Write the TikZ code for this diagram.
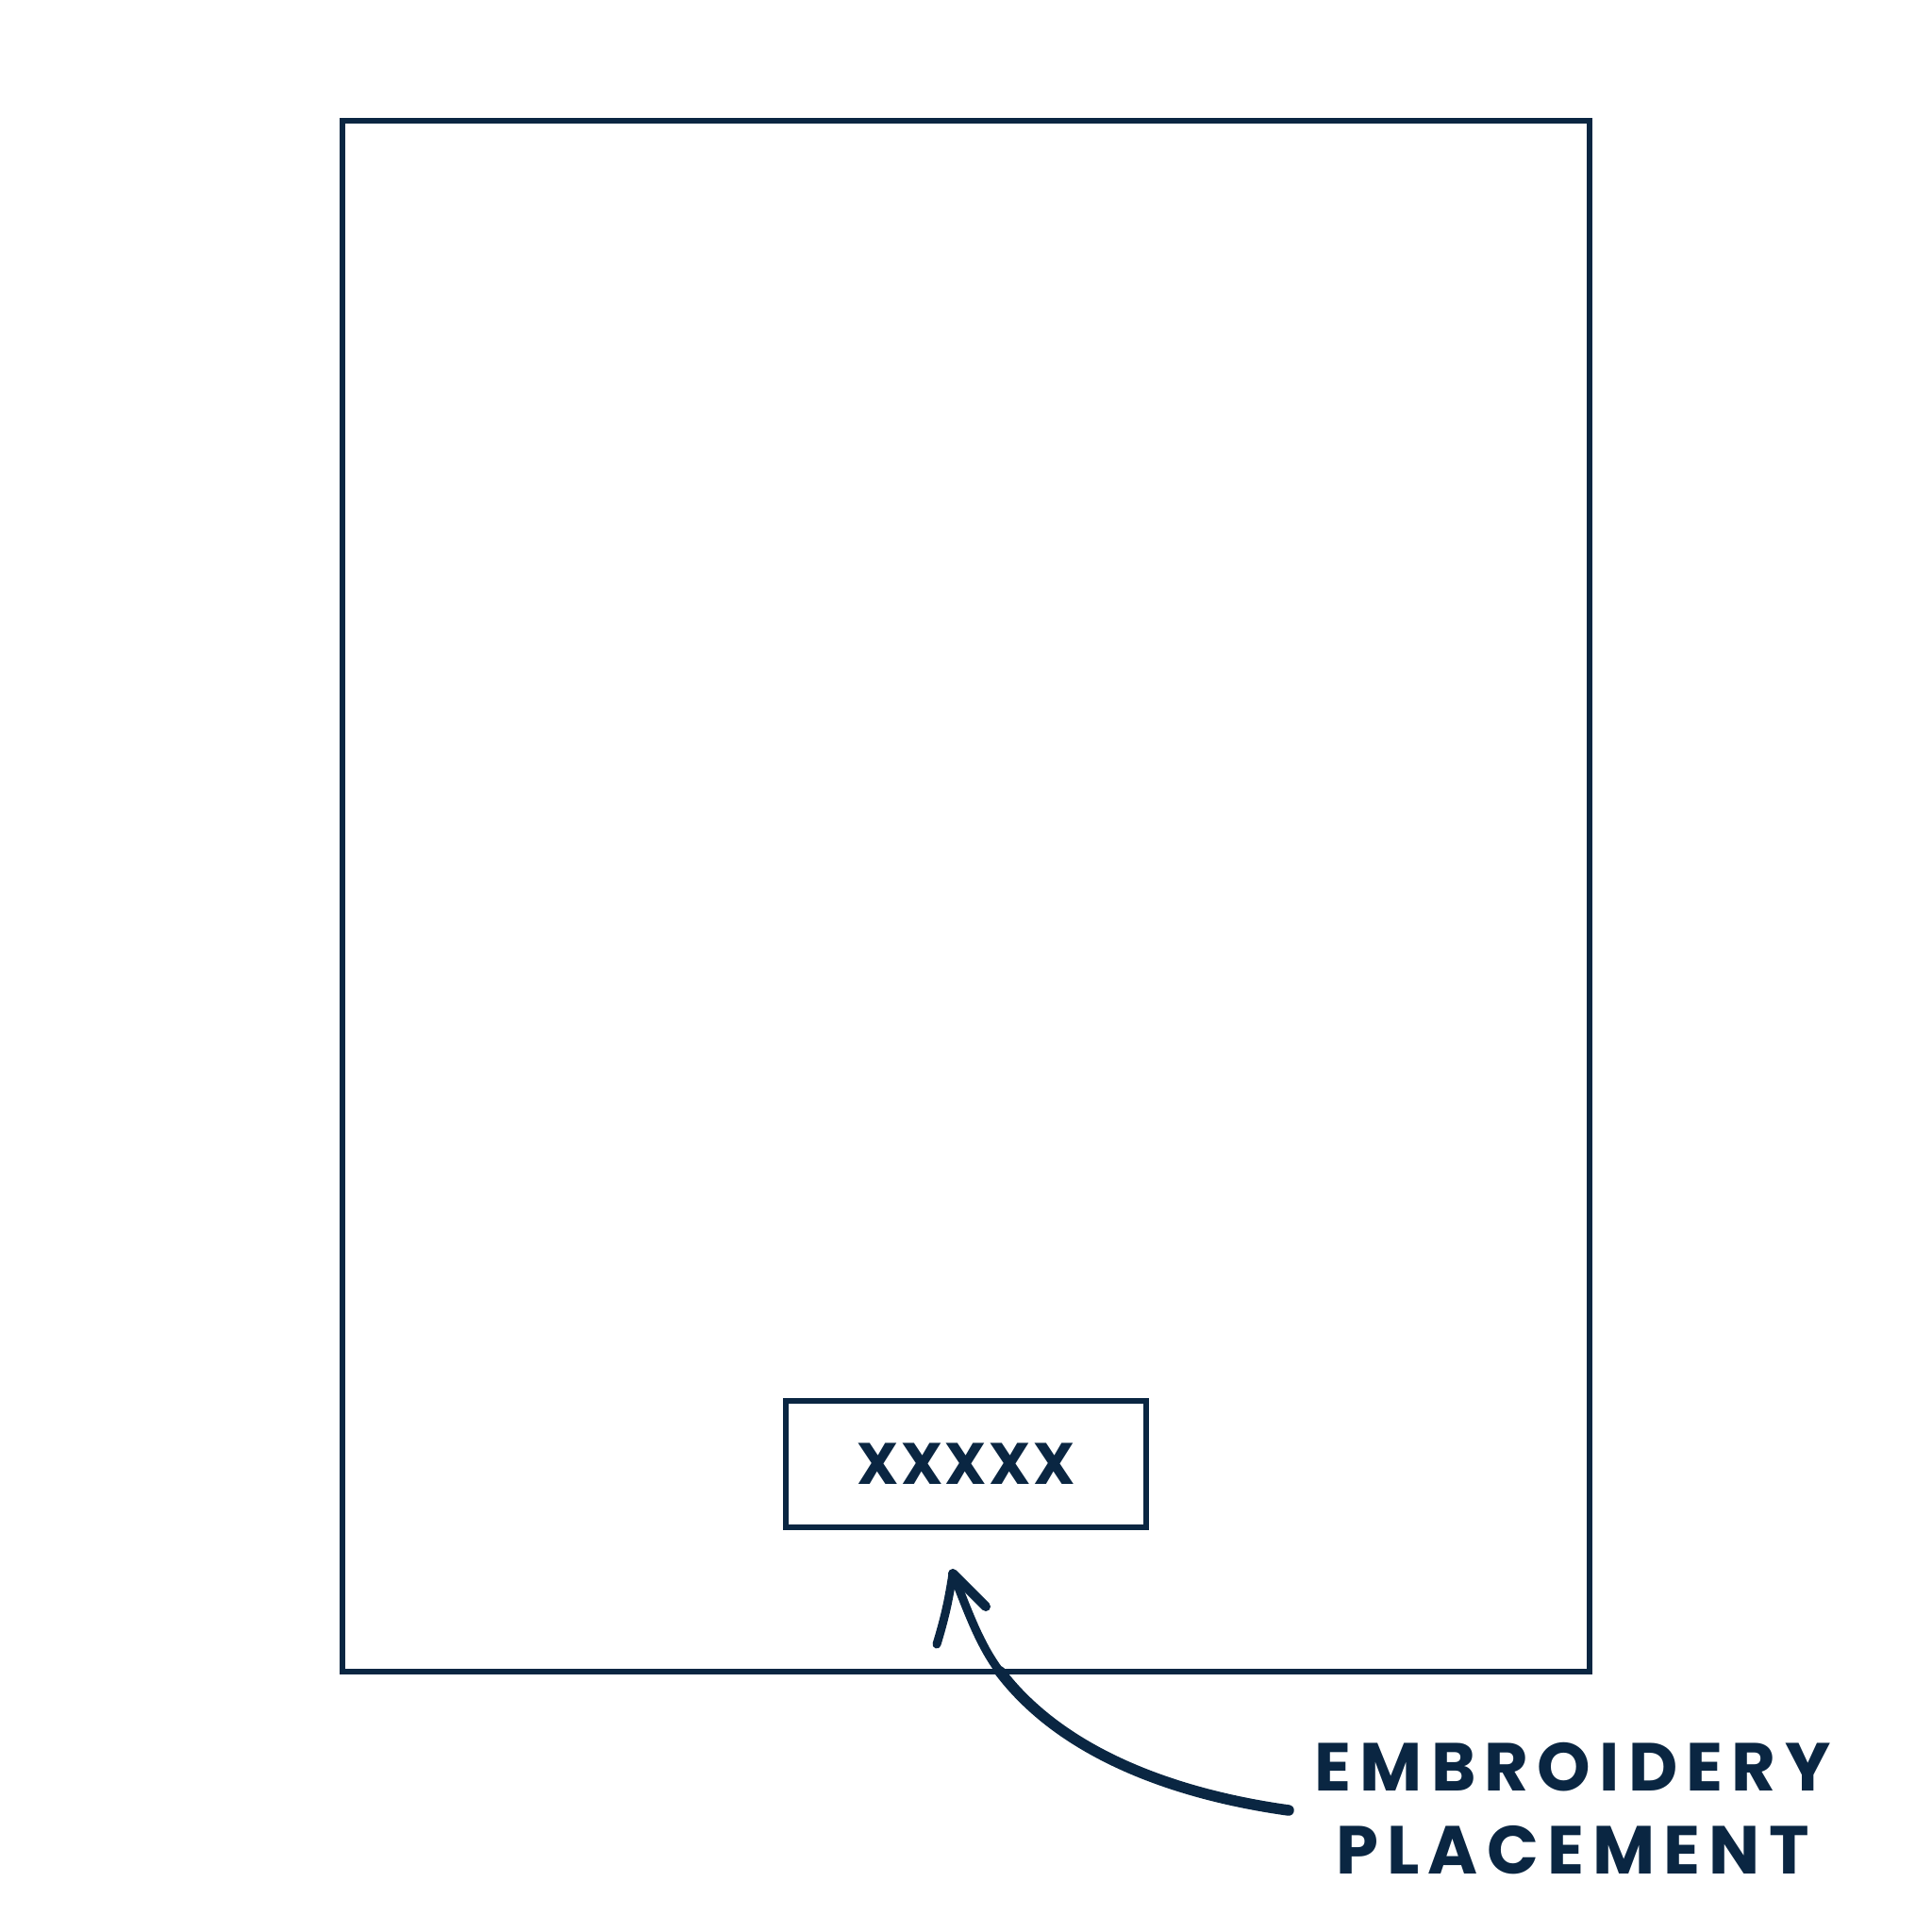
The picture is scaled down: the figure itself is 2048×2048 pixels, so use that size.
\documentclass[tikz,border=0pt]{standalone}
\usepackage{fontspec}
\setmainfont{Poppins}
\newfontfamily\rotulo{Poppins}[LetterSpace=4]
\newfontfamily\rotuloancho{Poppins}[LetterSpace=12.8]
\usetikzlibrary{positioning}
\definecolor{marino}{RGB}{10,38,66}

\begin{document}
\begin{tikzpicture}[x=1pt,y=-1pt,
    borde/.style={draw=marino,line width=6pt},
    texto/.style={text=marino,inner sep=0pt,anchor=base},
    flecha/.style={draw=marino,line width=9pt,line cap=round,line join=round}]

    \useasboundingbox (0,0) rectangle (2048,2048);
    % Prenda
    \draw[borde] (363,128) rectangle (1685,1772);
    % Bordado
    \node[borde,minimum width=382pt,minimum height=134pt] (bordado) at (1024,1551.5) {};
    \node[texto,font=\rotulo\bfseries\fontsize{62}{62}\selectfont] (marca) at (1024,1573) {XXXXX};
    % Etiqueta
    \node[texto,font=\rotuloancho\bfseries\fontsize{72}{72}\selectfont] (linea1) at (1667,1898) {EMBROIDERY};
    \node[texto,font=\rotuloancho\bfseries\fontsize{72}{72}\selectfont] (linea2) at (1667,1986) {PLACEMENT};
    % Flecha
    \coordinate (cola) at (1366,1919);
    \coordinate (codo) at (1060,1772);
    \coordinate (punta) at (1010,1668);
    \draw[flecha] (codo) .. controls (1037,1741.7) and (1024.4,1703) .. (punta);
    \draw[flecha,line width=11.5pt] (cola) .. controls (1247,1902.4) and (1126.6,1859.7) .. (codo);
    \draw[flecha] (993,1743) to[bend right=4] (punta);
    \draw[flecha,line width=10pt] (punta) -- (1045,1703);
\end{tikzpicture}
\end{document}
